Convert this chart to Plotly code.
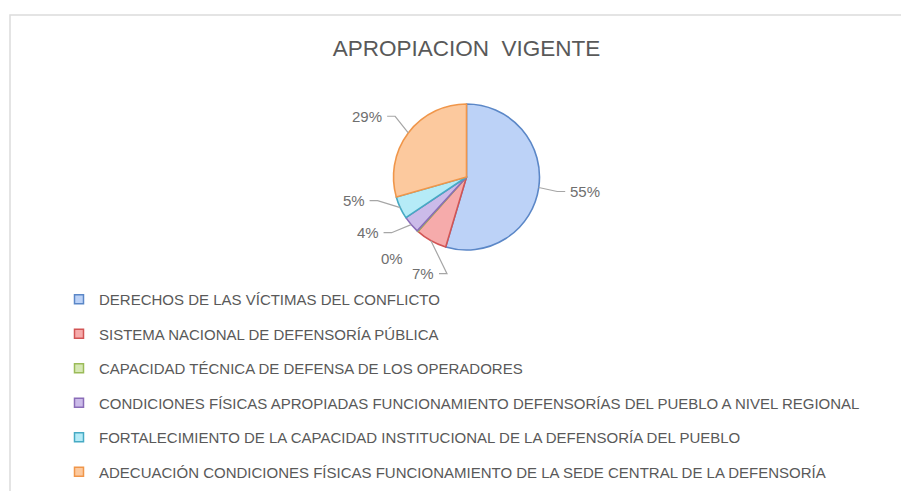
import math
import plotly.graph_objects as go

# ---- data ----
categories = [
    "DERECHOS DE LAS VÍCTIMAS DEL CONFLICTO",
    "SISTEMA NACIONAL DE DEFENSORÍA PÚBLICA",
    "CAPACIDAD TÉCNICA DE DEFENSA DE LOS OPERADORES",
    "CONDICIONES FÍSICAS APROPIADAS FUNCIONAMIENTO DEFENSORÍAS DEL PUEBLO A NIVEL REGIONAL",
    "FORTALECIMIENTO DE LA CAPACIDAD INSTITUCIONAL DE LA DEFENSORÍA DEL PUEBLO",
    "ADECUACIÓN CONDICIONES FÍSICAS FUNCIONAMIENTO DE LA SEDE CENTRAL DE LA DEFENSORÍA",
]
shares = [54.6, 7.0, 0.2, 3.8, 5.0, 29.4]
title_text = "APROPIACION  VIGENTE"

# ---- styles ----
fills = ["#bcd2f7", "#f6abab", "#d6e8b4", "#cbbbe9", "#b5ebf7", "#fcc99e"]
borders = ["#5b87c7", "#d25555", "#9bbb59", "#8a6cb8", "#46aac4", "#f0964a"]
W, H = 909, 491
OFF = 8                          # page body margin
CX, CY, R = 466.5, 177.0, 73.0   # pie centre / radius in page px
TXT = "#595959"
LBL = "#6f6f6f"
LINE = "#a6a6a6"
FONT = "Liberation Sans, Arial, sans-serif"


def px(x):
    return (x - OFF) / W


def py(y):
    return 1 - (y - OFF) / H


fig = go.Figure()

fig.add_trace(go.Pie(
    labels=categories, values=shares, sort=False, direction="clockwise",
    rotation=0, textinfo="none", hoverinfo="label+percent", showlegend=False,
    marker=dict(colors=fills, line=dict(color=borders, width=1.6)),
    domain=dict(x=[px(CX - R), px(CX + R)], y=[py(CY + R), py(CY - R)]),
))

# legend entries
for i, (name, f, b) in enumerate(zip(categories, fills, borders)):
    fig.add_trace(go.Scatter(
        x=[None], y=[None], mode="markers", name=name, legendgroup=f"g{i}",
        marker=dict(symbol="square", size=9, color=f, line=dict(color=b, width=1.5)),
    ))

# ---- outside percentage labels with leader lines (computed from data) ----
total = sum(shares)
cum = 0.0
items = []
for i, v in enumerate(shares):
    frac = v / total
    mid = (cum + frac / 2) * 360.0
    cum += frac
    items.append(dict(i=i, frac=frac, mid=mid, ang=mid))

# spread label angles apart so they do not collide
MINSEP = 20.0
order = sorted(items, key=lambda it: it["mid"])
for _ in range(200):
    moved = False
    for a, b in zip(order, order[1:]):
        d = b["ang"] - a["ang"]
        if d < MINSEP:
            push = (MINSEP - d) / 2
            a["ang"] -= push
            b["ang"] += push
            moved = True
    if not moved:
        break

RA = 1.38 * R
annotations = []
shapes = []
for it in items:
    m = math.radians(it["mid"])
    a = math.radians(it["ang"])
    ex, ey = CX + R * math.sin(m), CY - R * math.cos(m)
    ax, ay = CX + RA * math.sin(a), CY - RA * math.cos(a)
    side = -1 if math.sin(a) < 0 else 1
    pct = round(it["frac"] * 100)
    annotations.append(dict(
        x=px(ax + side * 2), y=py(ay), xref="paper", yref="paper", showarrow=False,
        text=f"{pct}%", xanchor="right" if side < 0 else "left", yanchor="middle",
        font=dict(family=FONT, size=15, color=LBL),
    ))
    if it["frac"] >= 0.01:
        kx = ax - side * 9
        path = (f"M {px(ex)},{py(ey)} L {px(kx)},{py(ay)} "
                f"L {px(ax - side * 1)},{py(ay)}")
        shapes.append(dict(type="path", xref="paper", yref="paper", path=path,
                           line=dict(color=LINE, width=1.2)))

# chart frame
shapes.append(dict(type="rect", xref="paper", yref="paper",
                   x0=px(10), y0=py(15), x1=1.05, y1=-0.05,
                   line=dict(color="#dcdcdc", width=1.5), layer="below"))

fig.update_layout(
    width=W, height=H, margin=dict(l=0, r=0, t=0, b=0, autoexpand=False),
    paper_bgcolor="white", plot_bgcolor="white",
    xaxis=dict(visible=False), yaxis=dict(visible=False),
    title=dict(text=title_text, x=px(CX), xanchor="center", y=py(48), yanchor="middle",
               font=dict(family=FONT, size=22.5, color=TXT)),
    legend=dict(x=px(59), y=py(283), xanchor="left", yanchor="top",
                traceorder="grouped", tracegroupgap=12,
                font=dict(family=FONT, size=15, color=TXT),
                bgcolor="rgba(0,0,0,0)"),
    annotations=annotations, shapes=shapes,
)

fig.write_html("out.html")
